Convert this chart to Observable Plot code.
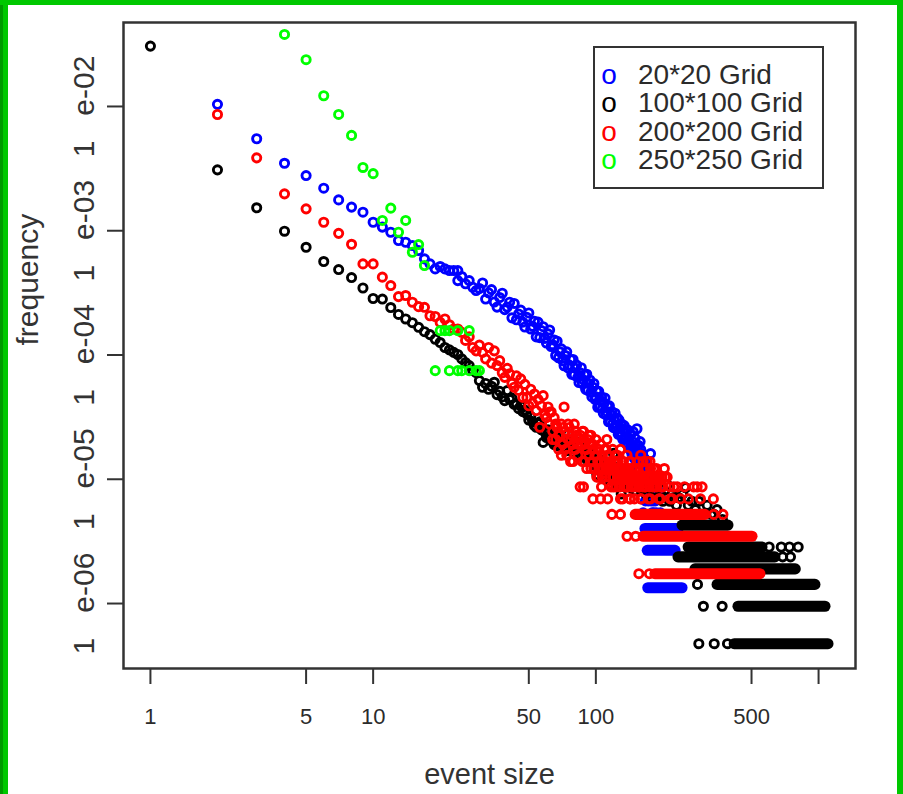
<!DOCTYPE html>
<html><head><meta charset="utf-8">
<script src="https://cdn.jsdelivr.net/npm/d3@7"></script>
<script src="https://cdn.jsdelivr.net/npm/@observablehq/plot@0.6"></script>
<style>
html,body{margin:0;padding:0;background:#fff;overflow:hidden;}
#wrap{position:relative;width:903px;height:794px;background:#fff;}
#wrap svg{display:block;}
.gb{position:absolute;}
</style></head><body>
<div id="wrap"></div>
<script>
// ---- axis ticks / labels ----
const xTicks = [1, 5, 10, 50, 100, 500, 1000];
const xTickLabels = ["1", "5", "10", "50", "100", "500", ""];
const yTicks = [1e-2, 1e-3, 1e-4, 1e-5, 1e-6];
const yTickLabels = ["1e-02", "1e-03", "1e-04", "1e-05", "1e-06"];
const xTitle = "event size";
const yTitle = "frequency";

// ---- series ----
const seriesNames = ["20*20 Grid", "100*100 Grid", "200*200 Grid", "250*250 Grid"];
const seriesColors = ["#0000ff", "#000000", "#ff0000", "#00ff00"];

// [event size, frequency]
const grid20Points = [
[2,1.04e-2],[3,5.50e-3],[4,3.49e-3],[5,2.78e-3],[6,2.20e-3],[7,1.77e-3],[8,1.55e-3],[9,1.41e-3],[10,1.17e-3],[11,1.07e-3],
[12,9.72e-4],[13,8.34e-4],[14,8.08e-4],[15,7.60e-4],[16,6.93e-4],[17,5.94e-4],[18,5.41e-4],[19,4.93e-4],[20,5.15e-4],[21,4.93e-4],
[22,4.78e-4],[23,4.78e-4],[24,4.78e-4],[24,3.97e-4],[25,4.28e-4],[26,3.74e-4],[27,3.97e-4],[28,3.51e-4],[29,3.30e-4],[30,3.43e-4],
[31,3.80e-4],[32,2.82e-4],[33,3.16e-4],[34,3.36e-4],[35,2.67e-4],[36,2.43e-4],[37,2.90e-4],[38,3.14e-4],[39,2.32e-4],[40,2.43e-4],
[41,2.66e-4],[42,1.99e-4],[43,2.60e-4],[44,1.92e-4],[45,2.14e-4],[46,2.30e-4],[47,1.84e-4],[48,1.68e-4],[49,2.01e-4],[50,2.18e-4],
[51,1.62e-4],[52,1.70e-4],[53,1.87e-4],[54,1.40e-4],[55,1.84e-4],[56,1.38e-4],[57,1.57e-4],[58,1.69e-4],[59,1.36e-4],[60,1.25e-4],
[61,1.48e-4],[62,1.59e-4],[63,1.17e-4],[64,1.21e-4],[65,1.32e-4],[66,9.9e-5],[67,1.29e-4],[68,9.5e-5],[69,1.06e-4],[70,1.12e-4],
[71,9.0e-5],[72,8.2e-5],[73,9.9e-5],[74,1.06e-4],[75,7.9e-5],[76,8.3e-5],[77,9.2e-5],[78,7.0e-5],[79,9.2e-5],[80,6.9e-5],
[81,7.8e-5],[82,8.3e-5],[83,6.6e-5],[84,6.0e-5],[85,7.2e-5],[86,7.9e-5],[87,5.9e-5],[88,6.3e-5],[89,6.9e-5],[90,5.3e-5],
[91,7.0e-5],[92,5.2e-5],[93,5.9e-5],[94,6.3e-5],[95,5.0e-5],[96,4.6e-5],[97,5.5e-5],[98,5.9e-5],[99,4.4e-5],[100,4.6e-5],
[101,5.1e-5],[102,3.8e-5],[103,5.1e-5],[104,3.8e-5],[105,4.3e-5],[106,4.6e-5],[107,3.7e-5],[108,3.4e-5],[109,4.1e-5],[110,4.5e-5],
[111,3.3e-5],[112,3.5e-5],[113,3.85e-5],[114,2.9e-5],[115,3.9e-5],[116,2.9e-5],[117,3.3e-5],[118,3.5e-5],[119,2.8e-5],[120,2.6e-5],
[121,3.1e-5],[122,3.4e-5],[123,2.6e-5],[124,2.7e-5],[125,3.1e-5],[126,2.3e-5],[127,3.0e-5],[128,2.3e-5],[129,2.6e-5],[130,2.8e-5],
[131,2.25e-5],[132,2.1e-5],[133,2.5e-5],[134,2.7e-5],[135,2.1e-5],[136,2.2e-5],[137,2.5e-5],[138,1.9e-5],[139,2.5e-5],[140,1.9e-5],
[141,2.14e-5],[142,1.74e-5],[143,2.28e-5],[144,1.88e-5],[145,1.61e-5],[146,2.01e-5],[147,2.41e-5],[148,1.74e-5],[149,1.47e-5],[150,2.14e-5],
[151,1.88e-5],[152,1.34e-5],[153,2.55e-5],[154,1.61e-5],[155,1.88e-5],[156,1.21e-5],[157,1.47e-5],[158,2.01e-5],[159,1.74e-5],[160,1.07e-5],
[161,1.34e-5],[162,1.61e-5],[163,9.38e-6],[164,1.21e-5],[165,1.47e-5],[166,1.07e-5],[167,1.34e-5],[168,8.04e-6],[169,1.21e-5],[170,9.38e-6],
[171,1.07e-5],[172,6.70e-6],[173,1.21e-5],[174,8.04e-6],[175,9.38e-6],[176,1.61e-5],[177,6.70e-6],[178,8.04e-6],[179,5.36e-6],[180,9.38e-6],
[181,6.70e-6],[182,5.36e-6],[183,8.04e-6],[185,6.70e-6],[187,5.36e-6],[190,8.04e-6],[195,5.36e-6],[163,5.36e-6],[167,6.70e-6],[161,9.38e-6]
];
// [frequency, first size, last size] : runs of consecutive sizes sharing one frequency
const grid20Runs = [[1.34e-6,172,245],[2.68e-6,171,228],[4.02e-6,167,235]];

const grid100Points = [
[1,3.06e-2],[2,3.09e-3],[3,1.53e-3],[4,9.91e-4],[5,7.36e-4],[6,5.65e-4],[7,4.87e-4],[8,4.20e-4],[9,3.46e-4],[10,2.85e-4],
[11,2.82e-4],[12,2.41e-4],[13,2.12e-4],[14,1.95e-4],[15,1.82e-4],[16,1.67e-4],[17,1.54e-4],[18,1.46e-4],[19,1.34e-4],[20,1.26e-4],
[21,1.15e-4],[22,1.10e-4],[23,1.05e-4],[24,1.01e-4],[25,9.30e-5],[26,8.69e-5],[27,8.22e-5],[28,7.48e-5],[29,7.21e-5],[30,6.22e-5],
[31,5.50e-5],[32,5.9e-5],[33,5.3e-5],[34,5.6e-5],[35,6.03e-5],[36,4.8e-5],[37,5.1e-5],[38,4.6e-5],[39,4.29e-5],[40,5.17e-5],
[41,4.4e-5],[42,4.5e-5],[43,4.0e-5],[44,4.04e-5],[45,3.7e-5],[46,3.9e-5],[47,3.5e-5],[48,3.6e-5],[49,3.36e-5],[50,3.0e-5],
[51,3.2e-5],[52,2.9e-5],[53,2.70e-5],[54,2.62e-5],[55,2.8e-5],[56,2.9e-5],[57,2.5e-5],[58,1.98e-5],[59,2.4e-5],[60,2.17e-5],
[61,2.5e-5],[62,2.2e-5],[63,2.3e-5],[64,2.0e-5],[65,1.9e-5],[66,2.3e-5],[67,2.1e-5],[68,1.85e-5],[69,2.17e-5],[70,2.0e-5],
[71,1.8e-5],[72,1.75e-5],[73,2.05e-5],[74,1.7e-5],[75,2.3e-5],[76,1.9e-5],[77,1.75e-5],[78,2.0e-5],[79,1.65e-5],[80,2.05e-5],
[82,1.7e-5],[83,1.85e-5],[84,1.6e-5],[85,1.81e-5],[86,1.55e-5],[87,1.7e-5],[88,1.60e-5],[89,1.5e-5],[90,1.75e-5],[91,1.45e-5],
[92,1.6e-5],[93,1.45e-5],[94,1.55e-5],[95,1.4e-5],[96,1.5e-5],[97,1.35e-5],[98,1.60e-5],[99,1.3e-5],[100,1.425e-5],[101,1.09e-5],
[102,1.33e-5],[103,1.235e-5],[104,1.235e-5],[105,1.38e-5],[106,1.14e-5],[107,1.28e-5],[108,1.425e-5],[109,1.19e-5],[110,1.045e-5],[111,1.28e-5],
[112,1.235e-5],[113,1.09e-5],[114,1.33e-5],[115,1.14e-5],[116,9.03e-6],[117,1.19e-5],[118,1.045e-5],[119,1.28e-5],[120,1.615e-5],[121,1.09e-5],
[122,9.98e-6],[123,1.19e-5],[124,1.045e-5],[125,9.5e-6],[126,1.14e-5],[127,1.09e-5],[128,9.03e-6],[129,1.09e-5],[130,7.60e-6],[132,1.045e-5],
[134,9.5e-6],[136,1.14e-5],[138,9.03e-6],[140,1.19e-5],[142,9.98e-6],[144,8.55e-6],[146,1.045e-5],[148,9.50e-6],[150,8.08e-6],[152,9.98e-6],
[155,1.045e-5],[157,8.55e-6],[160,8.08e-6],[162,9.03e-6],[165,8.55e-6],[168,7.60e-6],[170,8.55e-6],[173,9.03e-6],[176,7.13e-6],[180,9.50e-6],
[183,7.60e-6],[186,8.08e-6],[190,7.13e-6],[195,7.60e-6],[200,6.65e-6],[205,7.13e-6],[209,9.03e-6],[215,6.65e-6],[220,7.60e-6],[224,7.13e-6],
[230,6.18e-6],[235,7.13e-6],[245,7.60e-6],[253,8.55e-6],[260,6.18e-6],[270,6.65e-6],[280,5.70e-6],[290,6.65e-6],[300,5.23e-6],[316,6.18e-6],
[330,5.23e-6],[339,5.23e-6],[350,5.70e-6],[370,4.75e-6],
[290,4.75e-7],[340,4.75e-7],[390,4.75e-7],[304,9.5e-7],[369,9.5e-7],[286,1.425e-6],[690,2.375e-6],[748,2.375e-6],
[600,2.85e-6],[680,2.85e-6],[740,2.85e-6],[810,2.85e-6]
];
const grid100Runs = [[4.75e-7,420,1108],[9.5e-7,437,1074],[1.425e-6,352,968],[1.90e-6,280,790],[2.375e-6,235,640],[2.85e-6,261,560],[4.275e-6,245,394]];

const grid200Points = [
[2,8.62e-3],[3,3.86e-3],[4,1.98e-3],[5,1.50e-3],[6,1.17e-3],[7,9.53e-4],[8,7.78e-4],[9,5.41e-4],[10,5.41e-4],[11,4.23e-4],
[12,3.62e-4],[13,2.95e-4],[14,3.01e-4],[15,2.66e-4],[16,2.45e-4],[17,2.42e-4],[18,2.07e-4],[19,2.04e-4],[20,1.83e-4],[21,1.95e-4],
[22,1.75e-4],[23,1.62e-4],[24,1.62e-4],[25,1.52e-4],[26,1.31e-4],[27,1.40e-4],[28,1.15e-4],[29,1.08e-4],[30,1.20e-4],[31,1.05e-4],
[32,9.30e-5],[33,1.15e-4],[34,8.6e-5],[35,1.08e-4],[36,8.22e-5],[37,9.01e-5],[38,7.2e-5],[39,6.61e-5],[40,7.8e-5],[41,7.05e-5],
[42,5.9e-5],[43,5.50e-5],[44,6.8e-5],[45,5.2e-5],[46,6.42e-5],[47,4.56e-5],[48,5.8e-5],[49,4.56e-5],[50,3.9e-5],[51,5.3e-5],
[52,4.1e-5],[53,4.86e-5],[54,3.57e-5],[55,4.4e-5],[56,2.62e-5],[57,3.9e-5],[58,4.71e-5],[59,3.3e-5],[60,3.13e-5],[61,3.82e-5],
[62,2.78e-5],[63,3.48e-5],[64,2.43e-5],[65,3.13e-5],[66,2.09e-5],[67,2.61e-5],[68,1.74e-5],[69,2.26e-5],[70,2.78e-5],[71,1.91e-5],
[72,3.82e-5],[73,2.43e-5],[74,1.56e-5],[75,2.09e-5],[76,2.61e-5],[77,1.39e-5],[78,2.26e-5],[79,1.91e-5],[80,2.78e-5],[81,1.74e-5],
[82,2.26e-5],[83,1.56e-5],[84,2.09e-5],[85,8.69e-6],[86,1.91e-5],[87,2.43e-5],[88,2.43e-5],[89,1.39e-5],[90,1.74e-5],[91,1.22e-5],
[92,2.09e-5],[93,1.56e-5],[94,1.91e-5],[95,2.26e-5],[96,1.39e-5],[97,1.74e-5],[98,1.22e-5],[99,1.56e-5],[100,2.09e-5],[101,1.04e-5],
[102,1.39e-5],[103,1.74e-5],[104,1.22e-5],[105,1.91e-5],[106,8.69e-6],[107,1.56e-5],[108,1.22e-5],[109,1.39e-5],[110,1.04e-5],[111,1.74e-5],
[112,2.09e-5],[113,1.22e-5],[114,1.56e-5],[115,1.04e-5],[116,1.39e-5],[117,8.69e-6],[118,1.22e-5],[119,1.74e-5],[120,1.04e-5],[121,1.39e-5],
[122,1.56e-5],[123,8.69e-6],[124,1.22e-5],[125,1.04e-5],[126,1.39e-5],[127,1.22e-5],[128,8.69e-6],[129,1.74e-5],[130,1.04e-5],[131,1.22e-5],
[132,6.95e-6],[133,1.39e-5],[134,1.04e-5],[135,8.69e-6],[136,1.22e-5],[137,1.04e-5],[138,1.56e-5],[139,8.69e-6],[140,1.22e-5],[141,1.04e-5],
[142,6.95e-6],[143,1.39e-5],[144,8.69e-6],[145,1.04e-5],[146,1.22e-5],[147,8.69e-6],[148,1.04e-5],[149,6.95e-6],[150,1.22e-5],[152,8.69e-6],
[154,1.04e-5],[155,1.39e-5],[156,8.69e-6],[158,1.04e-5],[159,1.56e-5],[160,6.95e-6],[162,8.69e-6],[164,1.22e-5],[165,1.04e-5],[167,8.69e-6],
[169,1.04e-5],[170,1.39e-5],[172,6.95e-6],[174,8.69e-6],[176,1.22e-5],[178,1.04e-5],[180,8.69e-6],[182,1.22e-5],[185,1.04e-5],[188,8.69e-6],
[190,1.04e-5],[192,6.95e-6],[195,8.69e-6],[198,1.04e-5],[200,8.69e-6],[205,1.04e-5],[209,1.04e-5],[215,8.69e-6],[220,6.95e-6],[224,8.69e-6],
[232,8.69e-6],[240,6.95e-6],[250,8.69e-6],[260,6.95e-6],[275,8.69e-6],[285,8.69e-6],[295,6.95e-6],[300,8.69e-6],[337,6.95e-6],
[62,3.48e-5],[64,2.09e-5],[66,2.78e-5],[68,2.26e-5],[70,1.56e-5],[71,2.61e-5],[73,1.74e-5],[75,2.78e-5],[77,2.09e-5],[79,1.39e-5],
[81,2.43e-5],[83,1.91e-5],[85,2.26e-5],[87,1.39e-5],[89,1.91e-5],[91,1.74e-5],[93,2.26e-5],[95,1.22e-5],[97,1.91e-5],[99,1.22e-5],
[101,1.56e-5],[103,1.04e-5],[105,1.39e-5],[107,1.04e-5],[109,1.74e-5],[111,1.22e-5],[113,1.56e-5],[115,1.22e-5],[117,1.39e-5],[119,1.04e-5],
[121,1.22e-5],[123,1.39e-5],[125,1.56e-5],[127,1.04e-5],[131,1.39e-5],[133,1.04e-5],[135,1.22e-5],[137,8.69e-6],[139,1.22e-5],[141,1.39e-5],
[145,1.22e-5],[147,1.04e-5],[151,1.04e-5],[153,1.22e-5],[157,8.69e-6],[161,1.04e-5],[163,1.39e-5],[166,8.69e-6],[168,1.22e-5],[171,1.04e-5],
[175,1.39e-5],[179,1.04e-5],[184,8.69e-6],[187,1.22e-5],[193,1.04e-5],[197,8.69e-6],[203,1.22e-5],
[156,1.738e-6],[174,1.738e-6],[138,3.476e-6],[151,3.476e-6],[118,5.214e-6],[129,5.214e-6],[338,5.214e-6],[372,5.214e-6],
[97,6.95e-6],[105,6.95e-6],[113,6.95e-6],[129,6.95e-6],[143,6.95e-6],[159,6.95e-6],[176,6.95e-6],[195,6.95e-6],[216,6.95e-6],[88,8.69e-6],[120,8.69e-6]
];
const grid200Runs = [[1.738e-6,185,548],[3.476e-6,164,505],[5.214e-6,151,310]];

const grid250Points = [
[4,3.80e-2],[5,2.38e-2],[6,1.22e-2],[7,8.63e-3],[8,5.85e-3],[9,3.23e-3],[10,2.88e-3],[11,1.21e-3],[12,1.52e-3],[13,9.73e-4],
[14,1.21e-3],[15,6.71e-4],[16,7.74e-4],[17,5.25e-4],
[20,1.57e-4],[21,1.57e-4],[22,1.57e-4],[24,1.57e-4],[27,1.57e-4],
[19,7.48e-5],[22,7.48e-5],[24,7.48e-5],[25,7.48e-5],[27,7.48e-5],[29,7.48e-5],[30,7.48e-5]
];
const grid250Runs = [];

const pointSets = [grid20Points, grid100Points, grid200Points, grid250Points];
const runSets = [grid20Runs, grid100Runs, grid200Runs, grid250Runs];

const R = 4.1, SW = 2.9;
const seriesMarks = [];
pointSets.forEach((pts, i) => {
  seriesMarks.push(Plot.dot(pts, {x: d => d[0], y: d => d[1], r: R, stroke: seriesColors[i], strokeWidth: SW, fill: "none"}));
  if (runSets[i].length) seriesMarks.push(Plot.ruleY(runSets[i], {y: d => d[0], x1: d => d[1], x2: d => d[2], stroke: seriesColors[i], strokeWidth: 2 * R + SW, strokeLinecap: "round"}));
});

const chart = Plot.plot({
  width: 903, height: 794,
  marginLeft: 123, marginRight: 48, marginTop: 22, marginBottom: 126,
  style: {fontFamily: "'Liberation Sans', Arial, Helvetica, sans-serif", background: "transparent", color: "#2b2b2b"},
  x: {type: "log", domain: [0.757, 1465]},
  y: {type: "log", domain: [3.0e-7, 0.0474]},
  marks: [
    ...seriesMarks,
    Plot.frame({stroke: "#333", strokeWidth: 2.5}),
    Plot.axisX({ticks: xTicks, tickFormat: () => "", tickSize: 16, strokeWidth: 2, color: "#333", label: null}),
    Plot.text(xTicks, {x: d => d, text: (d, i) => xTickLabels[i], frameAnchor: "bottom", dy: 40, lineAnchor: "top", fontSize: 22, fill: "#2b2b2b"}),
    Plot.axisY({ticks: yTicks, tickFormat: d => yTickLabels[yTicks.indexOf(d)].replace("e", "\u00a0\u00a0\u00a0e"), tickSize: 16, tickRotate: -90, tickPadding: 14, fontSize: 30, strokeWidth: 2, color: "#333", label: null}),
    Plot.text([xTitle], {text: d => d, frameAnchor: "bottom", dy: 115, lineAnchor: "bottom", fontSize: 29, fill: "#333"}),
    Plot.text([yTitle], {text: d => d, frameAnchor: "left", dx: -86, rotate: -90, lineAnchor: "bottom", fontSize: 30, fill: "#333"})
  ]
});
const wrap = document.getElementById("wrap");
wrap.appendChild(chart);

// legend (inside the plot area, top right)
const lg = d3.select(wrap).append("svg")
  .attr("width", 903).attr("height", 794)
  .style("position", "absolute").style("left", "0").style("top", "0")
  .style("font-family", "'Liberation Sans', Arial, Helvetica, sans-serif");
lg.append("rect").attr("x", 594).attr("y", 47).attr("width", 229).attr("height", 141)
  .attr("fill", "#fff").attr("stroke", "#333").attr("stroke-width", 2);
seriesNames.forEach((name, i) => {
  const y = 84 + i * 28.4;
  lg.append("text").attr("x", 609).attr("y", y).attr("text-anchor", "middle")
    .attr("font-size", 28).attr("fill", seriesColors[i]).text("o");
  lg.append("text").attr("x", 638).attr("y", y)
    .attr("font-size", 28).attr("fill", "#2b2b2b").text(name);
});

// green outer border of the picture
[["0px","0px","3px","794px","#009a00"],["3px","0px","5px","794px","#00c800"],["0px","0px","903px","5px","#00c800"],["897px","0px","6px","794px","#00c800"]].forEach(([l,t,w,h,c]) => {
  const d = document.createElement("div");
  d.className = "gb";
  d.style.left = l; d.style.top = t; d.style.width = w; d.style.height = h; d.style.background = c;
  wrap.appendChild(d);
});
</script>
</body></html>
